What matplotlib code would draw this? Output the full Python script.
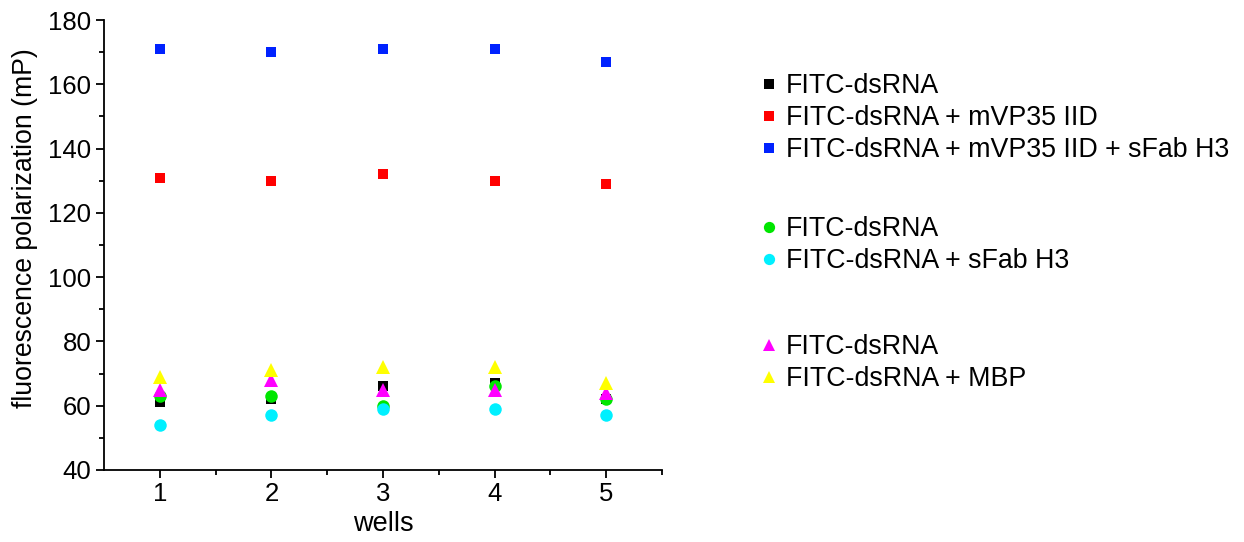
import matplotlib.pyplot as plt
from matplotlib.lines import Line2D
from matplotlib.ticker import MultipleLocator

plt.rcParams['font.family'] = ['Liberation Sans', 'DejaVu Sans']

wells = [1, 2, 3, 4, 5]

# squares
dsrna_a = [61, 62, 66, 67, 62]
dsrna_vp35 = [131, 130, 132, 130, 129]
dsrna_vp35_fab = [171, 170, 171, 171, 167]
# circles
dsrna_b = [63, 63, 60, 66, 62]
dsrna_fab = [54, 57, 59, 59, 57]
# triangles
dsrna_c = [65, 68, 65, 65, 64]
dsrna_mbp = [69, 71, 72, 72, 67]

series = [
    ("FITC-dsRNA", dsrna_a, "s", "#000000", 7.5),
    ("FITC-dsRNA + mVP35 IID", dsrna_vp35, "s", "#ff0000", 7.5),
    ("FITC-dsRNA + mVP35 IID + sFab H3", dsrna_vp35_fab, "s", "#0022ff", 7.5),
    ("FITC-dsRNA", dsrna_b, "o", "#00e600", 9),
    ("FITC-dsRNA + sFab H3", dsrna_fab, "o", "#00f0ff", 9),
    ("FITC-dsRNA", dsrna_c, "^", "#ff00ff", 10),
    ("FITC-dsRNA + MBP", dsrna_mbp, "^", "#ffff00", 10),
]

fig = plt.figure(figsize=(12.44, 5.42), dpi=100)
ax = fig.add_axes([0.0836, 0.133, 0.4486, 0.830])

handles = []
for label, vals, m, c, ms in series:
    ax.plot(wells, vals, linestyle="none", marker=m, color=c, markersize=ms,
            markeredgewidth=0)
    handles.append(Line2D([], [], linestyle="none", marker=m, color=c,
                          markersize=ms * 0.9, markeredgewidth=0, label=label))

ax.set_xlim(0.5, 5.5)
ax.set_ylim(40, 180)
ax.set_xticks(wells)
ax.set_xticks([1.5, 2.5, 3.5, 4.5, 5.5], minor=True)
ax.yaxis.set_major_locator(MultipleLocator(20))
ax.yaxis.set_minor_locator(MultipleLocator(10))
for s in ["top", "right"]:
    ax.spines[s].set_visible(False)
for s in ["left", "bottom"]:
    ax.spines[s].set_linewidth(1.3)
ax.tick_params(which="major", length=6, width=1.3, labelsize=18.5, direction="out", pad=3)
ax.tick_params(which="minor", length=3.5, width=1.3, direction="out")
ax.set_xlabel("wells", fontsize=19.5, labelpad=3)
ax.set_ylabel("fluorescence polarization (mP)", fontsize=19.2)
ax.yaxis.set_label_coords(-0.118, 0.538)

legend_kw = dict(frameon=False, fontsize=19.3, handletextpad=0.15, handlelength=1.0,
                 labelspacing=0.22, borderaxespad=0, borderpad=0,
                 bbox_transform=fig.transFigure, loc="upper left")
lg1 = fig.legend(handles=handles[0:3], bbox_to_anchor=(0.607, 0.865), **legend_kw)
lg2 = fig.legend(handles=handles[3:5], bbox_to_anchor=(0.607, 0.601), **legend_kw)
lg3 = fig.legend(handles=handles[5:7], bbox_to_anchor=(0.607, 0.383), **legend_kw)

fig.savefig("out.png", dpi=100)
